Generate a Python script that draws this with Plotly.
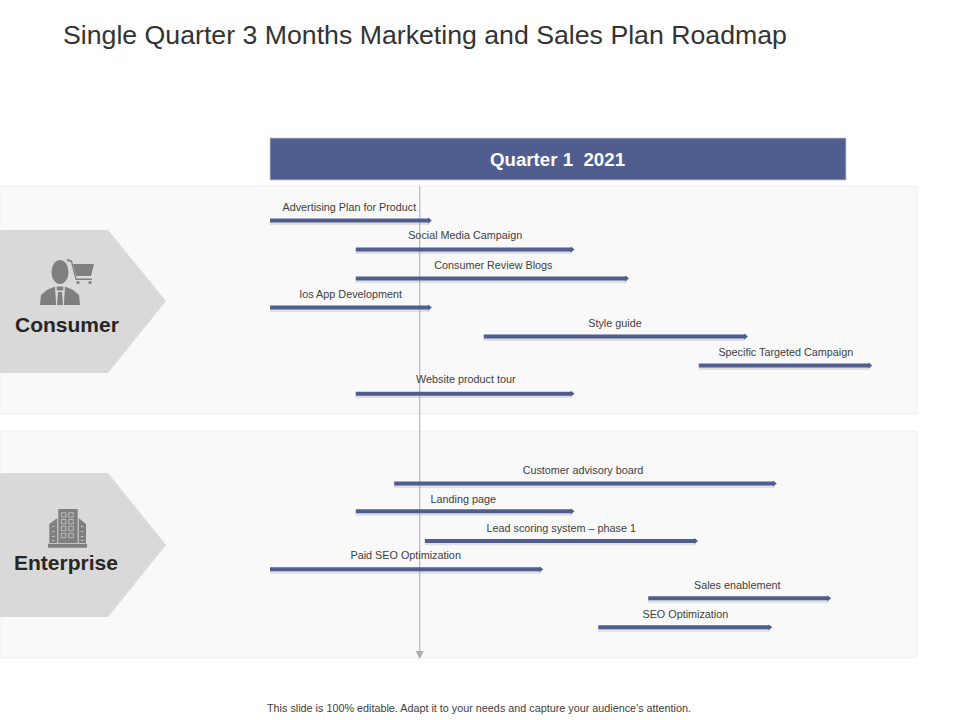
import plotly.graph_objects as go

TITLE = "Single Quarter 3 Months Marketing and Sales Plan Roadmap"
HEADER = "Quarter 1  2021"
FOOTER = "This slide is 100% editable. Adapt it to your needs and capture your audience's attention."
SEGMENTS = ["Consumer", "Enterprise"]

# Tasks: values in days from the start of the quarter, row number from the top
tasks = ["Advertising Plan for Product", "Social Media Campaign", "Consumer Review Blogs",
         "Ios App Development", "Style guide", "Specific Targeted Campaign", "Website product tour",
         "Customer advisory board", "Landing page", "Lead scoring system \u2013 phase 1",
         "Paid SEO Optimization", "Sales enablement", "SEO Optimization"]
start_day = [0, 13.4, 13.4, 0, 33.4, 67, 13.4, 19.4, 13.4, 24.2, 0, 59.1, 51.3]
end_day = [24.9, 47.2, 55.7, 24.9, 74.3, 93.7, 47.2, 78.8, 47.2, 66.5, 42.3, 87.3, 78.1]
label_day = [12.4, 30.5, 34.9, 12.6, 53.9, 80.6, 30.6, 48.9, 30.2, 45.5, 21.2, 73, 64.9]
row = [0, 1, 2, 3, 4, 5, 5.97, 9.07, 10.03, 11.05, 12.03, 13.03, 14.03]
label_row = [-0.42, 0.53, 1.58, 2.58, 3.58, 4.58, 5.5, 8.64, 9.64, 10.64, 11.57, 12.6, 13.6]
today_day = 23.4

NAVY = "#4F5D8F"
W, H = 960, 720
PX_PER_DAY = 6.4
PX_PER_ROW = 29.0
ROW0_PX = 220.5
X0_PX = 270


def px(x):
    return x / W


def py(y):
    return 1 - y / H


def path(points, close=True):
    s = "M " + " L ".join(f"{px(x):.5f},{py(y):.5f}" for x, y in points)
    return s + (" Z" if close else "")


shapes = []


def poly(points, fill, line=None, width=0):
    shapes.append(dict(type="path", xref="paper", yref="paper", path=path(points), fillcolor=fill,
                       line=dict(color=line or fill, width=width), layer="below"))


def rect(x0, y0, x1, y1, fill, line=None, width=0):
    shapes.append(dict(type="rect", xref="paper", yref="paper", x0=px(x0), x1=px(x1), y0=py(y0), y1=py(y1),
                       fillcolor=fill, line=dict(color=line or fill, width=width), layer="below"))


def oval(cx, cy, rx, ry, fill):
    shapes.append(dict(type="circle", xref="paper", yref="paper", x0=px(cx - rx), x1=px(cx + rx),
                       y0=py(cy - ry), y1=py(cy + ry), fillcolor=fill, line=dict(width=0), layer="below"))


def seg(x0, y0, x1, y1, color, width):
    shapes.append(dict(type="line", xref="paper", yref="paper", x0=px(x0), x1=px(x1), y0=py(y0), y1=py(y1),
                       line=dict(color=color, width=width), layer="below"))


# Panels
rect(0, 186, 917, 414, "#F9F9F9", "#F0F0F0", 1)
rect(0, 431, 917, 658, "#F9F9F9", "#F0F0F0", 1)
# Header band
rect(270, 138, 846, 180, NAVY, "#C9CDD8", 0.8)
# Segment arrows
HEX = "#D9D9D9"
poly([(0, 230), (108, 230), (166, 301), (108, 373), (0, 373)], HEX)
poly([(0, 473), (108, 473), (166, 545), (108, 617), (0, 617)], HEX)

ICON = "#7F7F7F"
# Person with cart
oval(60, 272, 8.5, 12, ICON)
poly([(40, 305), (41, 295), (47, 290), (55, 286.5), (56.5, 305)], ICON)
poly([(80, 305), (79, 295), (73, 290), (65, 286.5), (63.5, 305)], ICON)
poly([(55.5, 286), (64.5, 286), (64, 305), (56, 305)], HEX)
rect(56.8, 286.5, 63.2, 290.5, ICON)
poly([(58, 292), (62, 292), (63, 305), (57, 305)], ICON)
poly([(73, 264), (94, 264), (91, 276), (76, 276)], ICON)
poly([(67, 259), (72, 260.5), (76.5, 278.5), (92, 278.5), (92, 280), (75.5, 280), (71, 262), (67, 261)], ICON)
oval(78, 282.5, 1.6, 1.6, ICON)
oval(90, 282.5, 1.6, 1.6, ICON)
# Office building
rect(48, 543.7, 87, 547.7, ICON)
rect(58.3, 509, 77.7, 543, ICON)
poly([(49.3, 524), (57.3, 518), (57.3, 543), (49.3, 543)], ICON)
poly([(86, 524), (78.7, 518), (78.7, 543), (86, 543)], ICON)
for y0 in (512.7, 519.5, 526.3, 533.3):
    for x0 in (61.3, 68.7):
        rect(x0, y0, x0 + 4.6, y0 + 4.4, ICON, "#C4C4C4", 0.9)
for y0 in (526, 531, 536, 540):
    rect(52, y0, 54.5, y0 + 1, "#C4C4C4")
    rect(81, y0, 83.5, y0 + 1, "#C4C4C4")

# Quarter axis line and its arrowhead, anchored to today's day
xref_px = X0_PX + today_day * PX_PER_DAY
seg(xref_px, 186, xref_px, 652, "#ABABAB", 1)
poly([(xref_px - 4, 651), (xref_px + 4, 651), (xref_px, 659)], "#ABABAB")

fig = go.Figure()
# Bar shadows
sx, sy = [], []
for a, b, r in zip(start_day, end_day, row):
    sx += [a, b, None]
    sy += [r + 0.1, r + 0.1, None]
fig.add_trace(go.Scatter(x=sx, y=sy, mode="lines", line=dict(color="rgba(120,120,130,0.2)", width=3),
                         hoverinfo="skip", showlegend=False))
# Bars
bx, by = [], []
for a, b, r in zip(start_day, end_day, row):
    bx += [a, b, None]
    by += [r, r, None]
fig.add_trace(go.Scatter(x=bx, y=by, mode="lines", line=dict(color=NAVY, width=4),
                         hoverinfo="skip", showlegend=False))
# Arrow tips
fig.add_trace(go.Scatter(x=end_day, y=row, mode="markers",
                         marker=dict(symbol="triangle-right", size=5, color=NAVY, line=dict(width=0)),
                         hoverinfo="skip", showlegend=False))
# Task labels (sit just above their bar)
fig.add_trace(go.Scatter(x=label_day, y=label_row, mode="text", text=tasks,
                         textposition="middle center",
                         textfont=dict(family="Liberation Sans", size=10.8, color="#404040"),
                         hoverinfo="skip", showlegend=False))

FONT = "Liberation Sans"
annots = [
    dict(x=px(61), y=py(35), text=TITLE, xanchor="left", font=dict(size=26.7, color="#333333")),
    dict(x=px(557), y=py(159.5), text=f"<b>{HEADER}</b>", font=dict(size=18.7, color="#FFFFFF")),
    dict(x=px(66.5), y=py(325), text=f"<b>{SEGMENTS[0]}</b>", font=dict(size=21, color="#262626")),
    dict(x=px(66), y=py(562.5), text=f"<b>{SEGMENTS[1]}</b>", font=dict(size=21, color="#262626")),
    dict(x=px(479), y=py(708), text=FOOTER, font=dict(size=10.8, color="#404040")),
]
for a in annots:
    a.update(xref="paper", yref="paper", showarrow=False, yanchor="middle")
    a.setdefault("xanchor", "center")
    a["font"]["family"] = FONT

fig.update_layout(
    width=W, height=H, margin=dict(l=0, r=0, t=0, b=0),
    paper_bgcolor="white", plot_bgcolor="rgba(0,0,0,0)", showlegend=False,
    shapes=shapes, annotations=annots, font=dict(family=FONT),
    xaxis=dict(range=[-X0_PX / PX_PER_DAY, (W - X0_PX) / PX_PER_DAY], visible=False, fixedrange=True),
    yaxis=dict(range=[(H - ROW0_PX) / PX_PER_ROW, -ROW0_PX / PX_PER_ROW], visible=False, fixedrange=True),
)
fig.write_html("out.html", config=dict(displayModeBar=False),
               post_script="document.body.style.margin='0';document.documentElement.style.overflow='hidden';")
